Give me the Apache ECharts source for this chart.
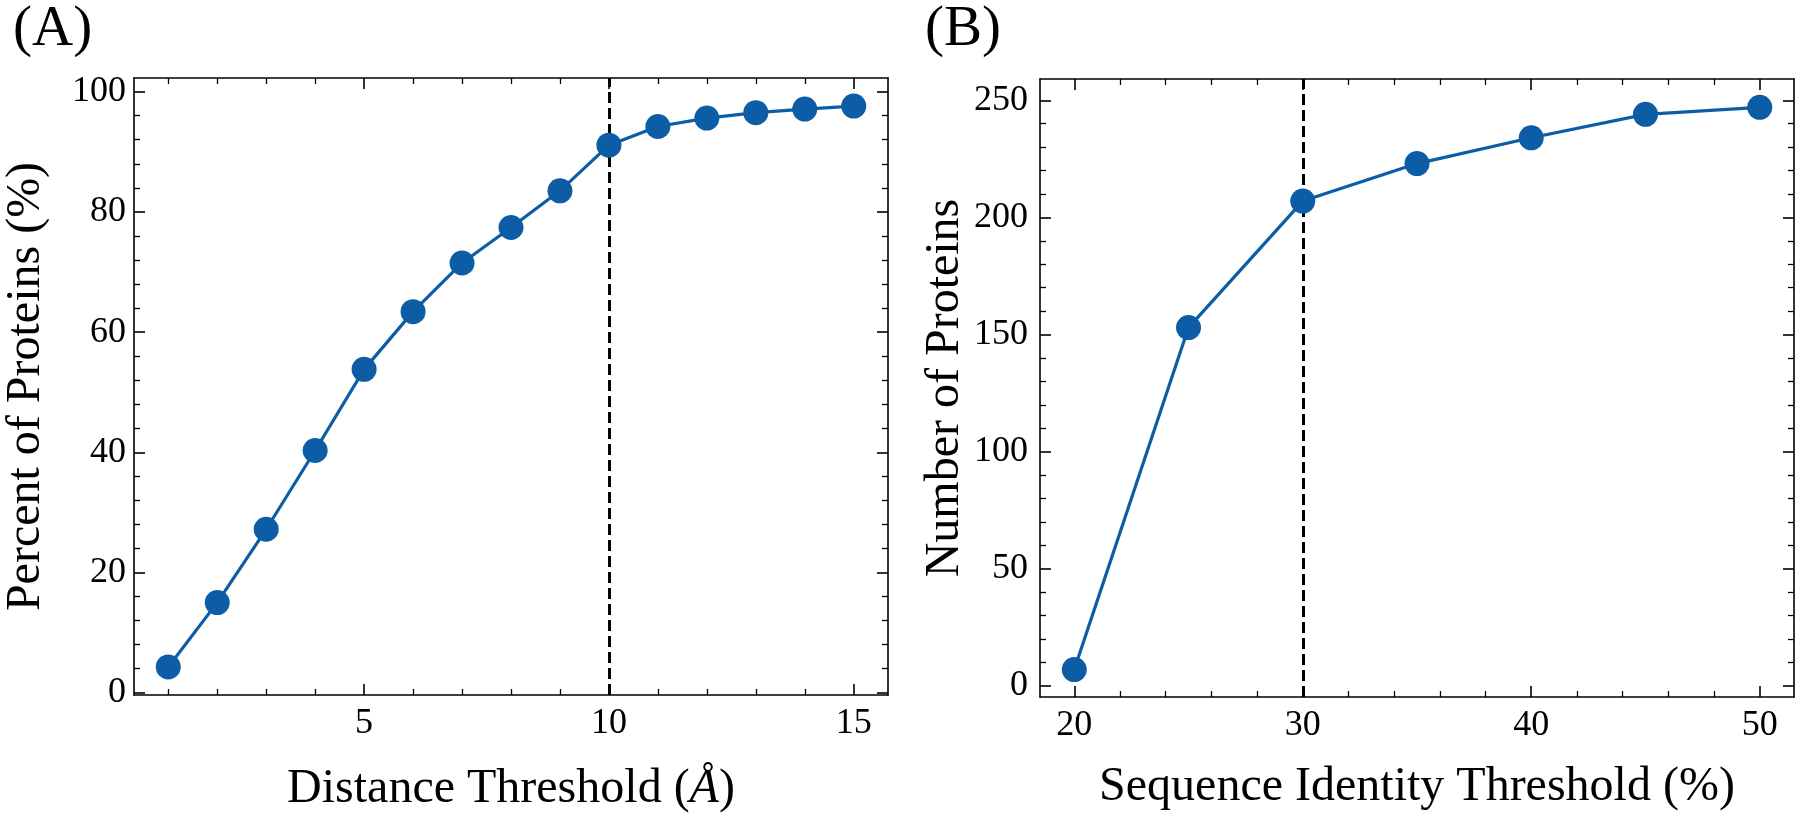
<!DOCTYPE html>
<html>
<head>
<meta charset="utf-8">
<script src="https://cdn.jsdelivr.net/npm/echarts@6/dist/echarts.min.js"></script>
<style>
html,body{margin:0;padding:0;background:#fff;}
#chart{width:1800px;height:818px;}
</style>
</head>
<body>
<div id="chart"></div>
<script>
// ---- Data ----
const distanceThreshold = [1, 2, 3, 4, 5, 6, 7, 8, 9, 10, 11, 12, 13, 14, 15];
const percentProteins = [4.3, 15.0, 27.2, 40.3, 53.8, 63.4, 71.5, 77.4, 83.5, 91.1, 94.2, 95.6, 96.5, 97.1, 97.6];
const identityThreshold = [20, 25, 30, 35, 40, 45, 50];
const numberProteins = [7, 153, 207, 223, 234, 244, 247];

// tick labels / tick positions
const xTicksA = [5, 10, 15];
const xMinorA = [1, 2, 3, 4, 6, 7, 8, 9, 11, 12, 13, 14];
const yTicksA = [0, 20, 40, 60, 80, 100];
const yMinorA = [4, 8, 12, 16, 24, 28, 32, 36, 44, 48, 52, 56, 64, 68, 72, 76, 84, 88, 92, 96];
const xTicksB = [20, 30, 40, 50];
const xMinorB = [22, 24, 26, 28, 32, 34, 36, 38, 42, 44, 46, 48];
const yTicksB = [0, 50, 100, 150, 200, 250];
const yMinorB = [10, 20, 30, 40, 60, 70, 80, 90, 110, 120, 130, 140, 160, 170, 180, 190, 210, 220, 230, 240];

const cutoffA = 10;
const cutoffB = 30;

const FONT = "'Liberation Serif', 'DejaVu Serif', serif";
const BLUE = '#0C5DA5';

function axesFor(dim, grid, min, max, major, minor, pos, opts) {
  opts = opts || {};
  const majorAxis = {
    type: 'value', gridIndex: grid, min: min, max: max, position: pos,
    axisLine: { show: true, onZero: false, lineStyle: { color: '#000', width: 1.6 } },
    axisTick: { show: true, inside: true, length: 11, customValues: major, lineStyle: { color: '#000', width: 1.6 } },
    axisLabel: opts.label ? {
      show: true, customValues: major, margin: opts.margin, color: '#000',
      fontFamily: FONT, fontSize: 36
    } : { show: false },
    splitLine: { show: false },
    name: opts.name || '', nameLocation: 'middle', nameGap: opts.nameGap || 0,
    nameRotate: opts.nameRotate,
    nameTextStyle: {
      fontFamily: FONT, fontSize: 48, color: '#000',
      rich: { i: { fontFamily: FONT, fontSize: 48, fontStyle: 'italic', color: '#000' } }
    }
  };
  const minorAxis = {
    type: 'value', gridIndex: grid, min: min, max: max, position: pos,
    axisLine: { show: false, onZero: false },
    axisTick: { show: true, inside: true, length: 6, customValues: minor, lineStyle: { color: '#000', width: 1.3 } },
    axisLabel: { show: false },
    splitLine: { show: false }
  };
  return [majorAxis, minorAxis];
}

const xAxes = [].concat(
  axesFor('x', 0, 0.3, 15.7, xTicksA, xMinorA, 'bottom', { label: true, margin: 11, name: 'Distance Threshold ({i|Å})', nameGap: 70 }),
  axesFor('x', 0, 0.3, 15.7, xTicksA, xMinorA, 'top'),
  axesFor('x', 1, 18.5, 51.5, xTicksB, xMinorB, 'bottom', { label: true, margin: 11, name: 'Sequence Identity Threshold (%)', nameGap: 66 }),
  axesFor('x', 1, 18.5, 51.5, xTicksB, xMinorB, 'top')
);
const yAxes = [].concat(
  axesFor('y', 0, -0.37, 102.27, yTicksA, yMinorA, 'left', { label: true, margin: 8, name: 'Percent of Proteins (%)', nameGap: 84, nameRotate: 90 }),
  axesFor('y', 0, -0.37, 102.27, yTicksA, yMinorA, 'right'),
  axesFor('y', 1, -4.7, 259.1, yTicksB, yMinorB, 'left', { label: true, margin: 12, name: 'Number of Proteins', nameGap: 71, nameRotate: 90 }),
  axesFor('y', 1, -4.7, 259.1, yTicksB, yMinorB, 'right')
);

function dashed(x) {
  return {
    silent: true, symbol: 'none', z: 1,
    label: { show: false },
    lineStyle: { color: '#000', width: 3, type: [11, 5] },
    data: [{ xAxis: x }]
  };
}

const option = {
  animation: false,
  backgroundColor: '#fff',
  title: [
    { text: '(A)', left: 8, top: -3, textStyle: { fontFamily: FONT, fontSize: 57, fontWeight: 'normal', color: '#000' } },
    { text: '(B)', left: 920, top: -3, textStyle: { fontFamily: FONT, fontSize: 57, fontWeight: 'normal', color: '#000' } }
  ],
  grid: [
    { left: 134, top: 78, width: 754, height: 619, containLabel: false },
    { left: 1040, top: 79, width: 754, height: 618, containLabel: false }
  ],
  xAxis: xAxes,
  yAxis: yAxes,
  series: [
    {
      type: 'line', xAxisIndex: 0, yAxisIndex: 0, z: 3,
      data: distanceThreshold.map((d, i) => [d, percentProteins[i]]),
      symbol: 'circle', symbolSize: 25,
      lineStyle: { color: BLUE, width: 3.2 },
      itemStyle: { color: BLUE },
      markLine: dashed(cutoffA)
    },
    {
      type: 'line', xAxisIndex: 4, yAxisIndex: 4, z: 3,
      data: identityThreshold.map((d, i) => [d, numberProteins[i]]),
      symbol: 'circle', symbolSize: 25,
      lineStyle: { color: BLUE, width: 3.2 },
      itemStyle: { color: BLUE },
      markLine: dashed(cutoffB)
    }
  ]
};

const chart = echarts.init(document.getElementById('chart'), null, { renderer: 'canvas' });
chart.setOption(option);
</script>
</body>
</html>
